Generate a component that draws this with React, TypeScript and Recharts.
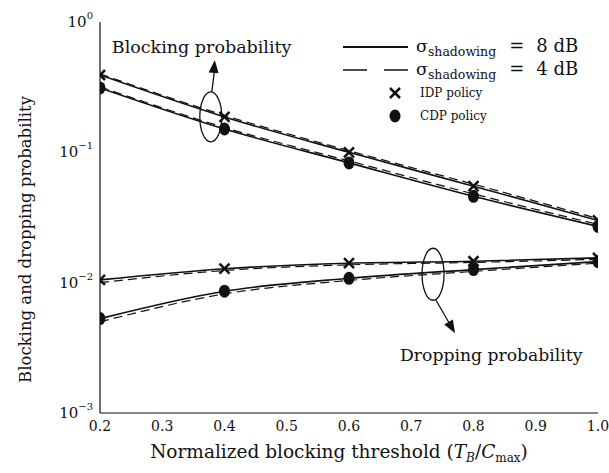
import React from 'react'
import {
  LineChart,
  Line,
  XAxis,
  YAxis,
  ReferenceDot,
  Legend,
} from 'recharts'

// normalized blocking threshold T_B / C_max
const thresholds = [0.2, 0.4, 0.6, 0.8, 1.0]

// blocking probability
const blockIdp8 = [0.392, 0.187, 0.1, 0.055, 0.03]
const blockIdp4 = [0.4, 0.192, 0.103, 0.057, 0.031]
const blockCdp8 = [0.312, 0.151, 0.083, 0.046, 0.027]
const blockCdp4 = [0.318, 0.155, 0.086, 0.048, 0.028]

// dropping probability
const dropIdp8 = [0.0105, 0.0128, 0.0141, 0.0146, 0.0155]
const dropIdp4 = [0.01, 0.0124, 0.0137, 0.0143, 0.0151]
const dropCdp8 = [0.0053, 0.0086, 0.0108, 0.0126, 0.0145]
const dropCdp4 = [0.005, 0.0082, 0.0104, 0.0122, 0.0141]

const xTicks = [0.2, 0.3, 0.4, 0.5, 0.6, 0.7, 0.8, 0.9, 1.0]
const yTicks = [0.001, 0.01, 0.1, 1]
const yTickExp = ['−3', '−2', '−1', '0']
const yMinorTicks = [
  0.002, 0.003, 0.004, 0.005, 0.006, 0.007, 0.008, 0.009,
  0.02, 0.03, 0.04, 0.05, 0.06, 0.07, 0.08, 0.09,
  0.2, 0.3, 0.4, 0.5, 0.6, 0.7, 0.8, 0.9,
]

// ellipse annotations (data coords of centre)
const noteX = [0.378, 0.735]
const noteY = [0.187, 0.0116]

const FONT = '"DejaVu Serif", "Liberation Serif", serif'
const INK = '#111'

const data = thresholds.map((t, i) => ({
  t,
  bi8: blockIdp8[i],
  bi4: blockIdp4[i],
  bc8: blockCdp8[i],
  bc4: blockCdp4[i],
  di8: dropIdp8[i],
  di4: dropIdp4[i],
  dc8: dropCdp8[i],
  dc4: dropCdp4[i],
}))

const Cross = (p: any) => {
  const { cx, cy } = p
  if (cx == null || cy == null) return <g />
  const s = 5
  return (
    <g>
      <line x1={cx - s} y1={cy - s} x2={cx + s} y2={cy + s} stroke={INK} strokeWidth={2.5} />
      <line x1={cx - s} y1={cy + s} x2={cx + s} y2={cy - s} stroke={INK} strokeWidth={2.5} />
    </g>
  )
}

const Dot = (p: any) => {
  const { cx, cy } = p
  if (cx == null || cy == null) return <g />
  return <ellipse cx={cx} cy={cy} rx={5.5} ry={6.5} fill={INK} />
}

const Empty = () => <g />

const YTick = (p: any) => {
  const { x, y, payload } = p
  const idx = yTicks.indexOf(payload.value)
  return (
    <text x={x} y={y + 5} textAnchor="end" fontFamily={FONT} fontSize={15} fill={INK}>
      10
      <tspan dy={-8} fontSize={10}>
        {yTickExp[idx]}
      </tspan>
    </text>
  )
}

const XTick = (p: any) => {
  const { x, y, payload } = p
  return (
    <text x={x} y={y + 18} textAnchor="middle" fontFamily={FONT} fontSize={14} fill={INK}>
      {payload.value.toFixed(1)}
    </text>
  )
}

const arrowHead = (x1: number, y1: number, x2: number, y2: number) => {
  const a = Math.atan2(y2 - y1, x2 - x1)
  const L = 13
  const w = 5
  const bx = x2 - L * Math.cos(a)
  const by = y2 - L * Math.sin(a)
  const nx = -Math.sin(a) * w
  const ny = Math.cos(a) * w
  return `${x2},${y2} ${bx + nx},${by + ny} ${bx - nx},${by - ny}`
}

const BlockingNote = (p: any) => {
  const { cx, cy } = p
  const x1 = cx + 1
  const y1 = cy - 25
  const x2 = cx + 4
  const y2 = cy - 57
  return (
    <g>
      <ellipse cx={cx} cy={cy} rx={11} ry={25} fill="none" stroke={INK} strokeWidth={1.3} />
      <line x1={x1} y1={y1} x2={x2} y2={y2 + 8} stroke={INK} strokeWidth={1.3} />
      <polygon points={arrowHead(x1, y1, x2, y2)} fill={INK} />
      <text x={cx - 99} y={cy - 64} fontFamily={FONT} fontSize={17.5} fill={INK}>
        Blocking probability
      </text>
    </g>
  )
}

const DroppingNote = (p: any) => {
  const { cx, cy } = p
  const x1 = cx + 3
  const y1 = cy + 26
  const x2 = cx + 22
  const y2 = cy + 59
  return (
    <g>
      <ellipse cx={cx} cy={cy} rx={11} ry={26} fill="none" stroke={INK} strokeWidth={1.3} />
      <line x1={x1} y1={y1} x2={x2 - 4} y2={y2 - 7} stroke={INK} strokeWidth={1.3} />
      <polygon points={arrowHead(x1, y1, x2, y2)} fill={INK} />
      <text x={cx - 33} y={cy + 87} fontFamily={FONT} fontSize={17.2} fill={INK}>
        Dropping probability
      </text>
    </g>
  )
}

const SigmaLabel = ({ y, db }: { y: number; db: string }) => (
  <text x={78} y={y} fontSize={17.5}>
    σ<tspan fontSize={12.5} dy={4}>shadowing</tspan>
    <tspan dy={-4} dx={13} fontSize={18}>=</tspan>
    <tspan dx={12} fontSize={18}>{db} dB</tspan>
  </text>
)

const LegendBox = () => (
  <svg width={270} height={110} style={{ display: 'block' }}>
    <g fontFamily={FONT} fill={INK}>
      <line x1={5} y1={14} x2={70} y2={14} stroke={INK} strokeWidth={2} />
      <SigmaLabel y={19} db="8" />
      <line x1={5} y1={37} x2={70} y2={37} stroke={INK} strokeWidth={1.5} strokeDasharray="24 17" />
      <SigmaLabel y={42} db="4" />
      <Cross cx={57} cy={60} />
      <text x={82} y={64} fontSize={12}>IDP policy</text>
      <Dot cx={57} cy={83} />
      <text x={82} y={87} fontSize={12}>CDP policy</text>
    </g>
  </svg>
)

export default function App() {
  const solid = { stroke: INK, strokeWidth: 1.6, type: 'monotone' as const, isAnimationActive: false, xAxisId: 'x', yAxisId: 'y' }
  const dashed = { ...solid, strokeWidth: 1.2, strokeDasharray: '9 5', dot: false }
  return (
    <div style={{ position: 'absolute', left: 0, top: 0, width: 609, height: 473, background: '#fff' }}>
      <LineChart width={609} height={473} data={data} margin={{ top: 22, right: 11, bottom: 0, left: 0 }}>
        <XAxis
          xAxisId="x"
          dataKey="t"
          type="number"
          domain={[0.2, 1]}
          ticks={xTicks}
          allowDataOverflow
          height={60}
          tickSize={0}
          tickMargin={0}
          tick={<XTick />}
          axisLine={{ stroke: INK, strokeWidth: 1.2 }}
          label={{
            value: 'Normalized blocking threshold (T_B/C_max)',
            position: 'insideBottom',
            offset: 0,
            content: (lp: any) => {
              const vb = lp.viewBox
              return (
                <text x={vb.x + vb.width / 2 - 10} y={vb.y + 45} textAnchor="middle" fontFamily={FONT} fontSize={18.5} fill={INK}>
                  Normalized blocking threshold (<tspan fontStyle="italic">T</tspan>
                  <tspan fontSize={12} dy={4} fontStyle="italic">B</tspan>
                  <tspan dy={-4}>/</tspan>
                  <tspan fontStyle="italic">C</tspan>
                  <tspan fontSize={12} dy={4}>max</tspan>
                  <tspan dy={-4}>)</tspan>
                </text>
              )
            },
          }}
        />
        <XAxis xAxisId="xb" type="number" domain={[0.2, 1]} ticks={xTicks} allowDataOverflow mirror height={0} tickSize={5} tick={Empty} axisLine={false} tickLine={{ stroke: INK }} />
        <XAxis xAxisId="xt" orientation="top" type="number" domain={[0.2, 1]} ticks={xTicks} allowDataOverflow mirror height={0} tickSize={5} tick={Empty} axisLine={{ stroke: INK, strokeWidth: 1.2 }} tickLine={{ stroke: INK }} />
        <YAxis
          yAxisId="y"
          scale="log"
          type="number"
          domain={[0.001, 1]}
          ticks={yTicks}
          allowDataOverflow
          width={100}
          tickSize={0}
          tickMargin={7}
          tick={<YTick />}
          axisLine={{ stroke: INK, strokeWidth: 1.2 }}
          label={{
            value: 'Blocking and dropping probability',
            position: 'insideLeft',
            content: (lp: any) => {
              const vb = lp.viewBox
              const cx = vb.x + 25
              const cy = vb.y + vb.height / 2 + 22
              return (
                <text x={cx} y={cy} transform={`rotate(-90 ${cx} ${cy})`} textAnchor="middle" dominantBaseline="central" fontFamily={FONT} fontSize={16.5} fill={INK}>
                  Blocking and dropping probability
                </text>
              )
            },
          }}
        />
        <YAxis yAxisId="yl" scale="log" type="number" domain={[0.001, 1]} ticks={yTicks} allowDataOverflow mirror width={0} tickSize={5} tick={Empty} axisLine={false} tickLine={{ stroke: INK }} />
        <YAxis yAxisId="ylm" scale="log" type="number" domain={[0.001, 1]} ticks={yMinorTicks} allowDataOverflow mirror width={0} tickSize={3} tick={Empty} axisLine={false} tickLine={{ stroke: INK }} />
        <YAxis yAxisId="yr" orientation="right" scale="log" type="number" domain={[0.001, 1]} ticks={yTicks} allowDataOverflow mirror width={0} tickSize={5} tick={Empty} axisLine={{ stroke: INK, strokeWidth: 1.2 }} tickLine={{ stroke: INK }} />
        <YAxis yAxisId="yrm" orientation="right" scale="log" type="number" domain={[0.001, 1]} ticks={yMinorTicks} allowDataOverflow mirror width={0} tickSize={3} tick={Empty} axisLine={false} tickLine={{ stroke: INK }} />

        <Line dataKey="bi4" {...dashed} />
        <Line dataKey="bc4" {...dashed} />
        <Line dataKey="di4" {...dashed} />
        <Line dataKey="dc4" {...dashed} />
        <Line dataKey="bi8" {...solid} dot={<Cross />} />
        <Line dataKey="bc8" {...solid} dot={<Dot />} />
        <Line dataKey="di8" {...solid} dot={<Cross />} />
        <Line dataKey="dc8" {...solid} dot={<Dot />} />

        <ReferenceDot xAxisId="x" yAxisId="y" x={noteX[0]} y={noteY[0]} ifOverflow="visible" shape={BlockingNote} />
        <ReferenceDot xAxisId="x" yAxisId="y" x={noteX[1]} y={noteY[1]} ifOverflow="visible" shape={DroppingNote} />

        <Legend
          layout="vertical"
          align="center"
          verticalAlign="middle"
          content={LegendBox}
          wrapperStyle={{ position: 'absolute', left: 338, top: 33, width: 270, height: 110 }}
        />
      </LineChart>
    </div>
  )
}
